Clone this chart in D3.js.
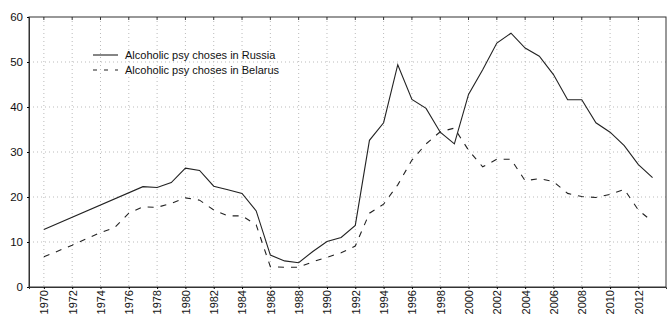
<!DOCTYPE html>
<html>
<head>
<meta charset="utf-8">
<script src="https://cdn.jsdelivr.net/npm/d3@7"></script>
<style>
  body { margin: 0; background: #fff; }
  svg { font-family: "Liberation Sans", Arial, sans-serif; }
  .grid line { stroke: #bbb; stroke-dasharray: 1,3; }
</style>
</head>
<body>
<svg id="chart" width="667" height="316"></svg>
<script>
// Values (per 100 000)
const russiaYears = [1970, 1977, 1978, 1979, 1980, 1981, 1982, 1983, 1984, 1985, 1986, 1987, 1988, 1989, 1990, 1991, 1992,
  1993, 1994, 1995, 1996, 1997, 1998, 1999, 2000, 2001, 2002, 2003, 2004, 2005, 2006, 2007, 2008, 2009, 2010, 2011, 2012, 2013];
const russiaValues = [12.8, 22.3, 22.1, 23.2, 26.4, 25.9, 22.4, 21.6, 20.8, 16.9, 7.1, 5.8, 5.4, 7.9, 10.1, 11.0, 13.7,
  32.6, 36.5, 49.4, 41.7, 39.7, 34.4, 31.8, 42.8, 48.3, 54.2, 56.4, 53.1, 51.3, 47.2, 41.6, 41.6, 36.5, 34.4, 31.4, 27.2, 24.3];

const belarusYears = [1970, 1972, 1974, 1975, 1976, 1977, 1978, 1979, 1980, 1981, 1982, 1983, 1984, 1985, 1986, 1987, 1988, 1989, 1990, 1991, 1992,
  1993, 1994, 1995, 1996, 1997, 1998, 1999, 2000, 2001, 2002, 2003, 2004, 2005, 2006, 2007, 2008, 2009, 2010, 2011, 2012, 2013];
const belarusValues = [6.7, 9.3, 12.1, 13.2, 16.4, 17.8, 17.7, 18.6, 19.8, 19.3, 17.1, 15.8, 15.8, 13.8, 4.5, 4.4, 4.4, 5.6, 6.6, 7.6, 9.1,
  16.4, 18.4, 22.7, 28.2, 31.8, 34.5, 35.3, 30.4, 26.7, 28.4, 28.4, 23.6, 24.1, 23.4, 20.8, 20.1, 19.9, 20.6, 21.7, 17.1, 14.5];

const xTicks = d3.range(1970, 2013, 2);
const yTicks = [0, 10, 20, 30, 40, 50, 60];
const legendLabels = ["Alcoholic psy choses in Russia", "Alcoholic psy choses in Belarus"];

const margin = {top: 17, right: 1, bottom: 29, left: 29};
const svg = d3.select("#chart");
const width = +svg.attr("width") - margin.left - margin.right;
const height = +svg.attr("height") - margin.top - margin.bottom;
const g = svg.append("g").attr("transform", `translate(${margin.left},${margin.top})`);

const x = d3.scaleLinear().domain([1968.95, 2013.95]).range([0, width]);
const y = d3.scaleLinear().domain([0, 60]).range([height, 0]);

// dotted grid
g.append("g").attr("class", "grid")
  .selectAll("line.v").data(xTicks).enter().append("line")
    .attr("x1", d => x(d)).attr("x2", d => x(d))
    .attr("y1", 0).attr("y2", height);
g.append("g").attr("class", "grid")
  .selectAll("line.h").data(yTicks.slice(1, -1)).enter().append("line")
    .attr("x1", 0).attr("x2", width)
    .attr("y1", d => y(d)).attr("y2", d => y(d));

// frame
g.append("rect").attr("width", width).attr("height", height)
  .attr("fill", "none").attr("stroke", "#333").attr("stroke-width", 1);

// axes
const xAxis = g.append("g").attr("transform", `translate(0,${height})`)
  .call(d3.axisBottom(x).tickValues(xTicks).tickFormat(d3.format("d")).tickSize(2));
xAxis.selectAll("text")
  .attr("transform", "rotate(-90)")
  .attr("text-anchor", "end")
  .attr("x", -3).attr("y", 0).attr("dy", "0.35em")
  .style("font-size", "11px").attr("fill", "#111");
xAxis.select(".domain").attr("stroke", "#333");

const yAxis = g.append("g")
  .call(d3.axisLeft(y).tickValues(yTicks).tickSize(2));
yAxis.selectAll("text").style("font-size", "11.5px").attr("fill", "#111").attr("x", -6);
yAxis.select(".domain").attr("stroke", "#333");

// top ticks
g.append("g").selectAll("line").data(xTicks).enter().append("line")
  .attr("x1", d => x(d)).attr("x2", d => x(d)).attr("y1", 0).attr("y2", 3)
  .attr("stroke", "#333");

const line = d3.line().x(d => x(d[0])).y(d => y(d[1]));

g.append("path")
  .datum(d3.zip(russiaYears, russiaValues))
  .attr("d", line).attr("fill", "none")
  .attr("stroke", "#222").attr("stroke-width", 1.1);

g.append("path")
  .datum(d3.zip(belarusYears, belarusValues))
  .attr("d", line).attr("fill", "none")
  .attr("stroke", "#222").attr("stroke-width", 1.1)
  .attr("stroke-dasharray", "6,7");

// legend
const legend = g.append("g").attr("transform", "translate(64,38)");
legendLabels.forEach((lbl, i) => {
  const row = legend.append("g").attr("transform", `translate(0,${i * 15})`);
  row.append("line").attr("x1", 0).attr("x2", 25).attr("y1", 0).attr("y2", 0)
    .attr("stroke", "#222").attr("stroke-width", 1.1)
    .attr("stroke-dasharray", i === 1 ? "4,7" : null);
  row.append("text").attr("x", 32).attr("y", 0).attr("dy", "0.35em")
    .style("font-size", "11px").attr("fill", "#111").text(lbl);
});
</script>
</body>
</html>
